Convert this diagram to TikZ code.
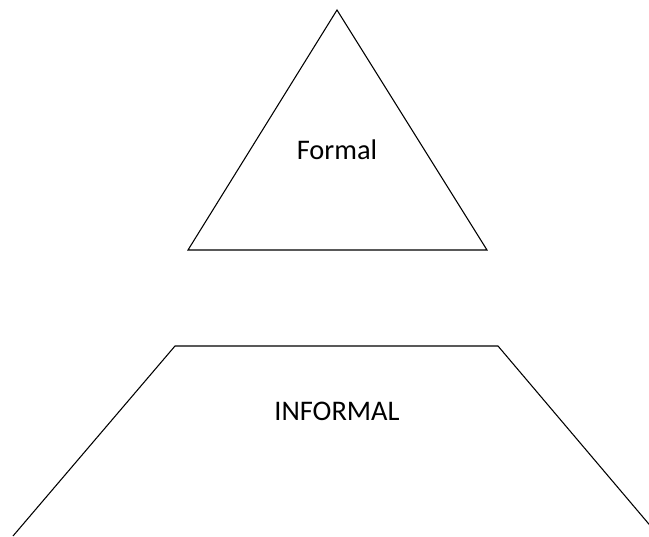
\documentclass[tikz,border=0pt]{standalone}
\usepackage{fontspec}
\setmainfont{Carlito}
\usepackage{tikz}
\usetikzlibrary{positioning}

\begin{document}
\begin{tikzpicture}[
      x=0.75pt, y=-0.75pt,
      level/.style={draw=black, line width=0.8pt, line join=miter},
      lab/.style={font=\fontsize{21.3}{25}\selectfont, inner sep=0pt},
    ]
    % Page frame
    \useasboundingbox (0,0) rectangle (649,536);
    \clip (0,0) rectangle (649,536);

    % Upper triangle
    \coordinate (apex) at (337,10);
    \coordinate (triL) at (188,250);
    \coordinate (triR) at (487,250);
    \draw[level] (apex) -- (triR) -- (triL) -- cycle;
    \node[lab] (formal) at (337,150) {Formal};

    % Lower trapezoid (runs off the page)
    \coordinate (trapTL) at (175,346);
    \coordinate (trapTR) at (498,346);
    \coordinate (trapBL) at (13,536);
    \coordinate (trapBR) at (659,536);
    \draw[level] (trapBL) -- (trapTL) -- (trapTR) -- (trapBR);
    \node[lab] (informal) at (337,411) {INFORMAL};
  \end{tikzpicture}
\end{document}
